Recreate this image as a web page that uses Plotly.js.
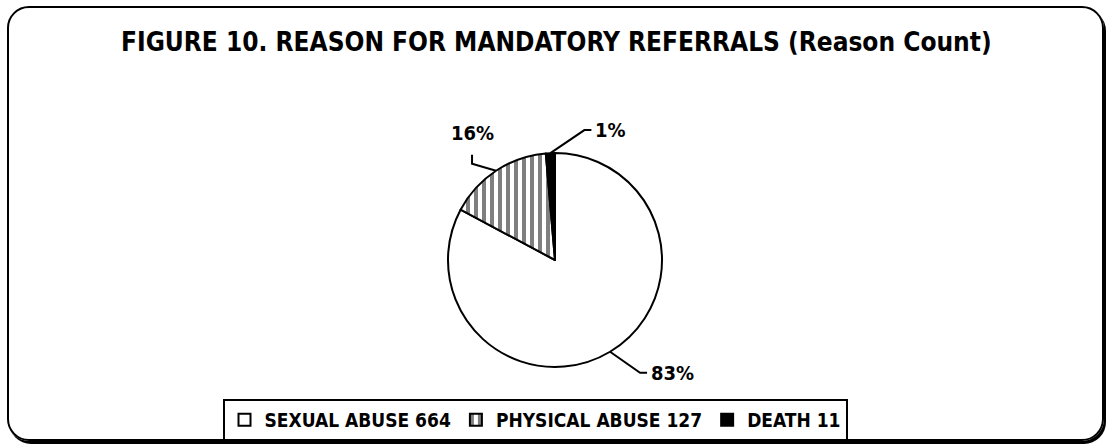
<!DOCTYPE html>
<html>
<head>
<meta charset="utf-8">
<script src="https://cdn.plot.ly/plotly-3.0.1.min.js"></script>
<style>
  body { margin: 0; background: #fff; }
  #wrap { position: relative; width: 1106px; height: 446px; }
  #chart { position: absolute; left: 0; top: 0; width: 1106px; height: 446px; }
  #chart pattern path, #chart pattern rect { shape-rendering: crispEdges; }
  #frame {
    position: absolute; left: 7px; top: 6px; width: 1093px; height: 431px;
    border: 2px solid #000; border-radius: 22px;
    box-shadow: 2px 3px 0 #000; pointer-events: none;
  }
</style>
</head>
<body>
<div id="wrap">
  <div id="chart"></div>
  <div id="frame"></div>
</div>
<script>
// Datos
const reasons = ["SEXUAL ABUSE", "PHYSICAL ABUSE", "DEATH"];
const counts = [664, 127, 11];
const percentLabels = ["83%", "16%", "1%"];

const W = 1106, H = 446;
const FONT = '"Liberation Sans Narrow", "Arial Narrow", "DejaVu Sans Condensed", sans-serif';

// centro y radio del pastel en pixeles
const cx = 555, cy = 260, R = 107;

const px = (x) => x / W;
const py = (y) => 1 - y / H;

const trace = {
  type: "pie",
  labels: reasons.map((r, i) => r + " " + counts[i]),
  values: counts,
  sort: false,
  direction: "clockwise",
  rotation: 0,
  textinfo: "none",
  hoverinfo: "label+percent",
  domain: { x: [px(cx - R), px(cx + R)], y: [py(cy + R), py(cy - R)] },
  marker: {
    colors: ["#ffffff", "#ffffff", "#000000"],
    line: { color: "#000", width: 2 },
    pattern: {
      shape: ["", "|", ""],
      fgcolor: "#000",
      bgcolor: "#fff",
      size: 8,
      solidity: 0.5,
      fillmode: "overlay",
    },
  },
};

// angulo medio de cada sector (grados, sentido horario desde arriba)
const total = counts.reduce((a, b) => a + b, 0);
let acc = 0;
const midAngles = counts.map((c) => {
  const m = (acc + c / 2) / total * 360;
  acc += c;
  return m;
});

// desplazamientos de las lineas guia (estilo): codo y tramo final
const leader = [
  { elbow: [30, 21], end: [7, 0], anchor: "left", yanchor: "middle", tx: 2, ty: 0 },
  { elbow: [-24, -7], end: [0, -9], anchor: "center", yanchor: "bottom", tx: 0, ty: -8 },
  { elbow: [34, -23], end: [7, 0], anchor: "left", yanchor: "middle", tx: 2, ty: 0 },
];

const shapes = [];
const annotations = [];
midAngles.forEach((a, i) => {
  const t = a * Math.PI / 180;
  const p0 = [cx + R * Math.sin(t), cy - R * Math.cos(t)];
  const p1 = [p0[0] + leader[i].elbow[0], p0[1] + leader[i].elbow[1]];
  const p2 = [p1[0] + leader[i].end[0], p1[1] + leader[i].end[1]];
  shapes.push({
    type: "path", xref: "paper", yref: "paper",
    path: `M ${px(p0[0])} ${py(p0[1])} L ${px(p1[0])} ${py(p1[1])} L ${px(p2[0])} ${py(p2[1])}`,
    line: { color: "#000", width: 2 },
  });
  annotations.push({
    xref: "paper", yref: "paper",
    x: px(p2[0] + leader[i].tx), y: py(p2[1] + leader[i].ty),
    xanchor: leader[i].anchor, yanchor: leader[i].yanchor,
    text: "<b>" + percentLabels[i] + "</b>",
    showarrow: false,
    font: { family: FONT, size: 20, color: "#000" },
  });
});

const layout = {
  width: W,
  height: H,
  margin: { l: 0, r: 0, t: 0, b: 0 },
  paper_bgcolor: "rgba(0,0,0,0)",
  title: {
    text: "<b>FIGURE 10. REASON FOR MANDATORY REFERRALS (Reason Count)</b>",
    font: { family: FONT, size: 26, color: "#000" },
    x: 0.503, xanchor: "center",
    y: py(42), yanchor: "middle",
  },
  showlegend: true,
  legend: {
    orientation: "h",
    x: px(535), xanchor: "center",
    y: py(399), yanchor: "top",
    bordercolor: "#000",
    borderwidth: 2,
    font: { family: FONT, size: 19, color: "#000", weight: "bold" },
    itemwidth: 30,
    traceorder: "normal",
  },
  shapes: shapes,
  annotations: annotations,
};

Plotly.newPlot("chart", [trace], layout, { displayModeBar: false, staticPlot: true });
</script>
</body>
</html>
